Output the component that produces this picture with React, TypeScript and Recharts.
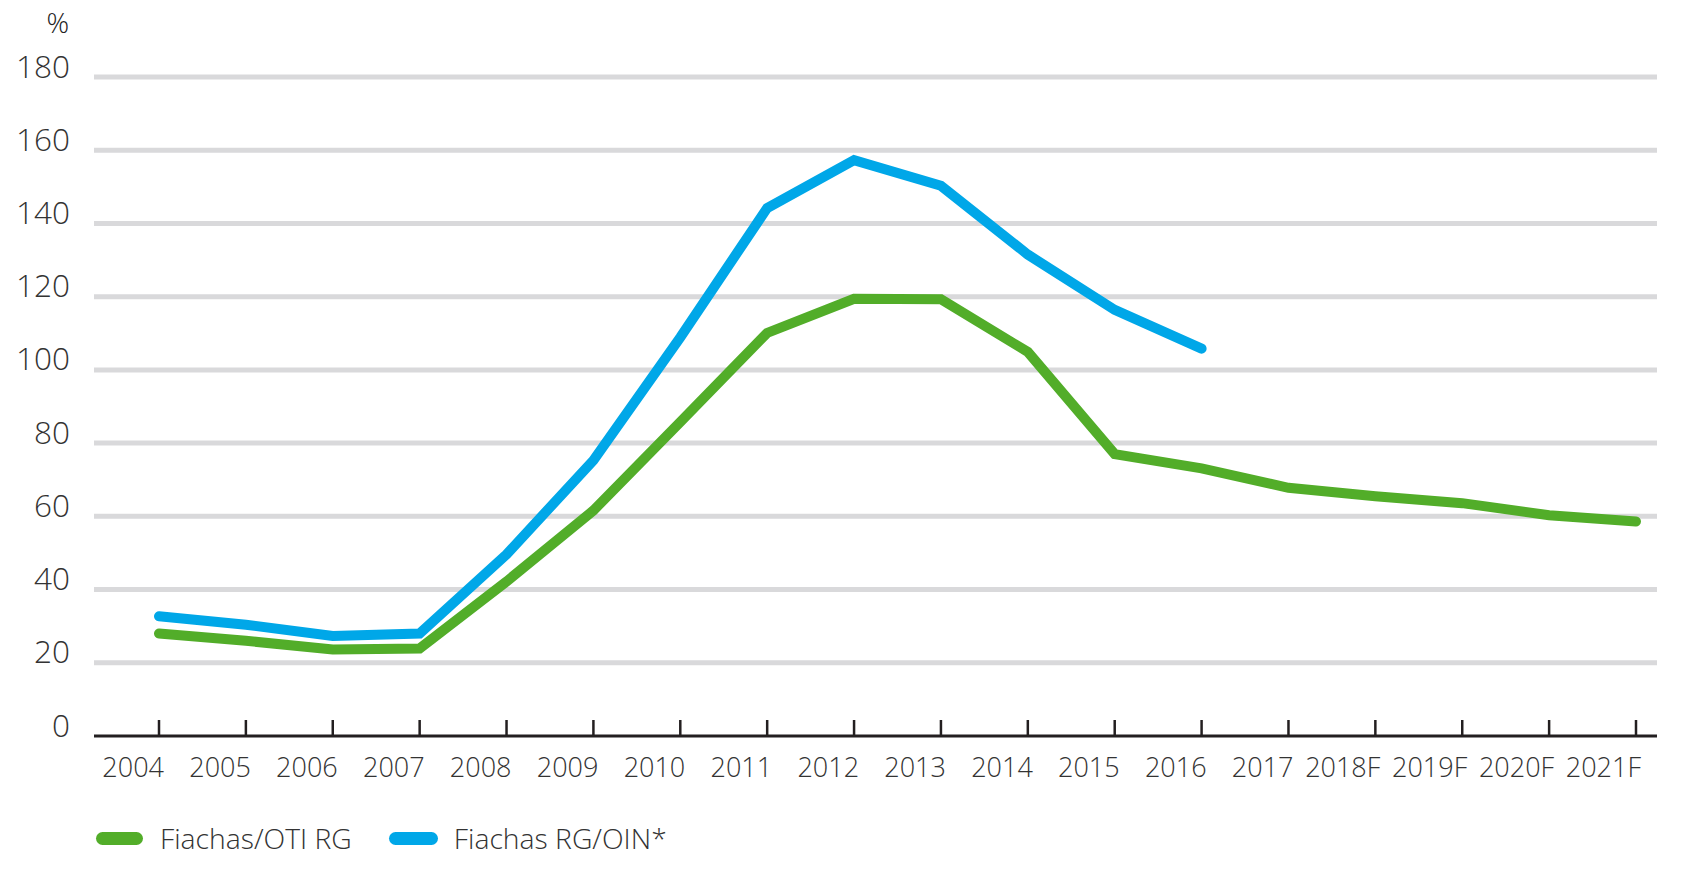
import { LineChart, Line, XAxis, YAxis, CartesianGrid, Legend } from 'recharts';

const years = ['2004', '2005', '2006', '2007', '2008', '2009', '2010', '2011', '2012', '2013', '2014', '2015', '2016', '2017', '2018F', '2019F', '2020F', '2021F'];
const otiRg = [28, 26, 23.6, 23.9, 42.2, 61.6, 85.8, 110.1, 119.4, 119.3, 104.9, 77, 73.1, 67.8, 65.5, 63.6, 60.3, 58.6];
const rgOin = [32.7, 30.4, 27.3, 28, 49.6, 75.3, 108.9, 144.2, 157.3, 150.3, 131.5, 116.4, 105.8, null, null, null, null, null];
const yTicks = [0, 20, 40, 60, 80, 100, 120, 140, 160, 180];

const data = years.map((year, i) => ({ year, otiRg: otiRg[i], rgOin: rgOin[i] }));

const FONT = "'Open Sans', sans-serif";
const TEXT = '#333333';
const GREEN = '#52ad29';
const BLUE = '#00a7e8';

const XTick = (props: any) => {
  const { x, y, payload } = props;
  return (
    <g>
      <line x1={x} x2={x} y1={y} y2={y - 16} stroke="#231f20" strokeWidth={2.5} />
      <text x={x + 5} y={y + 30} textAnchor="end" dominantBaseline="central" fontFamily={FONT} fontWeight={300} fontSize={27} fill={TEXT}>
        {payload.value}
      </text>
    </g>
  );
};

const YTick = (props: any) => {
  const { x, y, payload } = props;
  return (
    <text x={x} y={y - 12} textAnchor="end" dominantBaseline="central" fontFamily={FONT} fontWeight={300} fontSize={31.5} fill={TEXT}>
      {payload.value}
    </text>
  );
};

const LegendContent = () => (
  <div style={{ display: 'flex', alignItems: 'center', fontFamily: FONT, fontWeight: 300, fontSize: 28.3, color: TEXT }}>
    <span style={{ width: 47, height: 13, borderRadius: 7, background: GREEN, display: 'inline-block' }} />
    <span style={{ marginLeft: 17 }}>Fiachas/OTI RG</span>
    <span style={{ width: 49, height: 13, borderRadius: 7, background: BLUE, display: 'inline-block', marginLeft: 37 }} />
    <span style={{ marginLeft: 16 }}>Fiachas RG/OIN*</span>
  </div>
);

export default function App() {
  return (
    <div style={{ position: 'absolute', left: 0, top: 0, background: '#fff' }}>
      <LineChart width={1694} height={870} data={data} margin={{ top: 77, right: 37, left: 0, bottom: 74 }}>
        <CartesianGrid vertical={false} stroke="#d9d9db" strokeWidth={5} horizontalValues={yTicks.slice(1)} />
        <XAxis
          dataKey="year"
          scale="point"
          padding={{ left: 65, right: 21 }}
          height={60}
          axisLine={{ stroke: '#231f20', strokeWidth: 3 }}
          tickLine={false}
          tickSize={0}
          tickMargin={0}
          interval={0}
          tick={<XTick />}
        />
        <YAxis
          width={94}
          domain={[0, 180]}
          ticks={yTicks}
          axisLine={false}
          tickLine={false}
          tickSize={0}
          tickMargin={24}
          tick={<YTick />}
          label={{
            value: '%',
            content: () => (
              <text x={69} y={22} textAnchor="end" dominantBaseline="central" fontFamily={FONT} fontWeight={300} fontSize={28} fill="#222">
                %
              </text>
            ),
          }}
        />
        <Legend
          layout="horizontal"
          verticalAlign="middle"
          align="center"
          content={<LegendContent />}
          wrapperStyle={{ top: 819, left: 96, width: 700 }}
        />
        <Line dataKey="otiRg" stroke={GREEN} strokeWidth={10} strokeLinecap="round" dot={false} isAnimationActive={false} />
        <Line dataKey="rgOin" stroke={BLUE} strokeWidth={10} strokeLinecap="round" dot={false} isAnimationActive={false} />
      </LineChart>
    </div>
  );
}
